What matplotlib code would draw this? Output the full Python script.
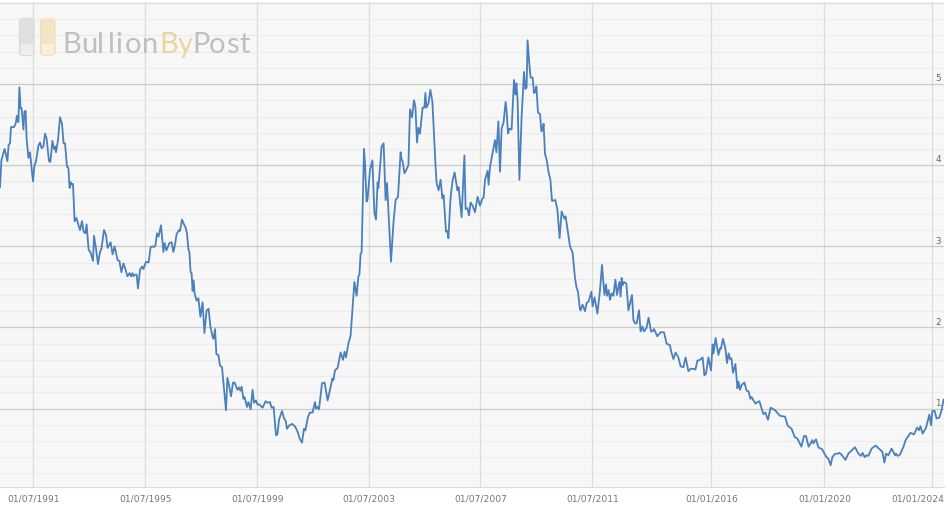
import numpy as np
import matplotlib
matplotlib.use("Agg")
import matplotlib.pyplot as plt
from matplotlib.patches import FancyBboxPatch, Rectangle

# sample positions along the category axis, and the ratio read at each one
pos_a = [0, .7, 2.3, 3.7, 4.3, 5, 5.5, 7, 7.8, 8.5, 9.2, 9.7, 10.3, 10.8, 11.7, 12.2, 12.8, 13.3, 14.2, 15,
         16.5, 17.2, 18, 19.2, 20, 20.8, 21.7, 22.5, 23.3, 24.5, 25.2, 26.2, 27, 27.5, 28, 29, 30, 31, 31.8, 32.5,
         33.5, 34.2, 34.8, 35.3, 35.8, 36.5, 37.3, 38.2, 39, 40, 41, 41.8, 42.7, 43.3, 44.3, 45.3, 46.5, 47, 48, 49,
         50, 50.7, 52, 53, 53.8, 55.3, 56.3, 57.3, 58.8, 59.7, 60.7, 61.7, 62.7, 63.7, 64.8, 65.5, 66.2, 66.7, 67.3, 68.3, 69]
val_a = [3.73, 4.06, 4.20, 4.05, 4.25, 4.27, 4.47, 4.47, 4.51, 4.61, 4.53, 4.96, 4.70, 4.70, 4.44, 4.66, 4.67, 4.33, 4.09, 4.16,
         3.80, 3.99, 4.05, 4.24, 4.28, 4.21, 4.23, 4.39, 4.33, 4.05, 4.04, 4.30, 4.20, 4.23, 4.16, 4.31, 4.59, 4.51, 4.27, 4.27,
         3.98, 3.97, 3.72, 3.79, 3.76, 3.77, 3.31, 3.35, 3.28, 3.20, 3.31, 3.18, 3.16, 3.27, 2.96, 2.92, 2.82, 3.13, 2.97, 2.78,
         2.93, 2.97, 3.20, 3.14, 2.98, 3.05, 2.90, 3.00, 2.83, 2.82, 2.68, 2.79, 2.72, 2.63, 2.67, 2.63, 2.67, 2.63, 2.65, 2.65, 2.48]

pos_b = [70, 71, 71.7, 73, 74.3, 75.3, 76.3, 77, 77.7, 78.5, 79.3, 80.5, 81.7, 82.3, 83.2, 84.7, 85.8, 86.7, 87.5, 88.3,
         89.5, 90, 91, 91.8, 92.8, 93.5, 94.2, 94.7, 95.3, 95.8, 96.3, 96.8, 97.3, 98.3, 99.2, 100.2, 101.3, 102.2, 103.3, 104.3,
         105.2, 106.3, 106.8, 107.5, 108.2, 109.2, 110, 111, 113, 113.7, 114.5, 115.5, 116.5, 117.3, 118.7, 119.5, 120.2, 120.8, 121.7, 122.3,
         123.5, 124.2, 125.3, 126.3, 127, 128, 128.7, 129.7, 131.3, 132.8, 133.8, 135, 135.8, 136.8, 138, 138.7, 139.5, 141, 142, 142.8,
         143.5, 144.5, 146, 147.5, 148.7, 150]
val_b = [2.71, 2.75, 2.72, 2.81, 2.80, 2.99, 3.00, 2.99, 3.01, 3.16, 3.12, 3.26, 2.93, 3.04, 2.95, 3.04, 3.05, 2.93, 3.02, 3.15,
         3.20, 3.19, 3.33, 3.28, 3.23, 3.16, 2.96, 2.93, 2.68, 2.67, 2.45, 2.58, 2.42, 2.33, 2.36, 2.13, 2.31, 1.93, 2.21, 2.23,
         2.01, 1.88, 1.86, 1.98, 1.67, 1.66, 1.53, 1.51, 0.98, 1.38, 1.29, 1.15, 1.32, 1.32, 1.23, 1.26, 1.22, 1.27, 1.12, 1.14,
         1.02, 1.08, 0.99, 1.23, 1.07, 1.10, 1.05, 1.05, 1.01, 1.09, 1.07, 1.08, 1.01, 1.02, 0.67, 0.68, 0.86, 0.97, 0.88, 0.85,
         0.75, 0.79, 0.81, 0.78, 0.72, 0.62]

pos_c = [151, 152, 152.7, 154, 155, 156.3, 157.5, 158, 158.7, 159.5, 161, 162.3, 163.8, 165, 166.2, 166.7, 167.5, 168.8, 170.3, 171.5,
         172.3, 173, 174.2, 175.3, 176.2, 177.2, 178.3, 179.2, 179.7, 180.3, 180.8, 182, 182.5, 183.3, 183.8, 185, 186.2, 187.2, 188, 188.8,
         189.2, 190.8, 191.8, 192.8, 193.5, 195.5, 196.7, 197.8, 199, 200.3, 200.8, 201.3, 202.2, 203.3, 204.2]
val_c = [0.58, 0.75, 0.73, 0.90, 0.95, 0.95, 1.08, 1.00, 1.02, 0.99, 1.31, 1.32, 1.10, 1.23, 1.37, 1.35, 1.47, 1.50, 1.69, 1.60,
         1.70, 1.63, 1.80, 1.90, 2.21, 2.56, 2.39, 2.63, 2.65, 2.91, 2.92, 4.20, 4.02, 3.55, 3.59, 3.94, 4.06, 3.41, 3.33, 3.79,
         3.72, 4.23, 4.27, 3.57, 3.78, 2.81, 3.28, 3.57, 3.61, 4.16, 4.07, 4.05, 3.90, 3.95, 4.00]

pos_d = [205, 206, 207, 207.7, 208.5, 209.2, 210, 211.3, 212.2, 212.7, 213.2, 214.2, 215.2, 216.2, 217.8, 218.3, 219.3, 220.3, 221.2, 221.8,
         223, 223.7, 224.2, 225.2, 226.2, 227.3, 228.7, 229.3, 230.8, 232.2, 232.8, 233.7, 234.5, 235.3, 236.3, 237.5, 238.8, 240, 241.2, 241.8,
         242.5, 243.8, 244.3, 245, 246.5, 247.5, 248.2, 249.2, 250, 250.8, 251.8, 252.8, 253.3, 254, 254.7, 255.8, 257, 257.7, 258.2, 258.8,
         259.7, 260.8, 262, 262.7, 263.3, 263.8, 264.5, 265.3, 266.3, 267, 267.5, 268.2, 269, 270, 270.7, 271.3, 271.8, 272.5, 273.3, 274.3,
         275.2, 276, 277.7, 278.7, 279.8, 280.8, 282.2, 282.8, 283.7, 285, 286.3, 287.5]
val_d = [4.69, 4.59, 4.80, 4.72, 4.28, 4.46, 4.39, 4.71, 4.71, 4.89, 4.71, 4.76, 4.93, 4.78, 3.98, 3.78, 3.69, 3.82, 3.59, 3.63,
         3.18, 3.19, 3.10, 3.57, 3.80, 3.91, 3.69, 3.73, 3.36, 4.12, 3.46, 3.47, 3.38, 3.54, 3.50, 3.42, 3.61, 3.50, 3.59, 3.60,
         3.82, 3.93, 3.76, 3.98, 4.18, 4.31, 4.16, 4.54, 3.92, 4.45, 4.53, 4.78, 4.67, 4.39, 4.45, 4.44, 5.05, 4.87, 5.01, 4.80,
         3.82, 4.59, 5.15, 4.94, 4.96, 5.54, 5.29, 5.08, 5.08, 4.89, 4.90, 4.97, 4.65, 4.63, 4.42, 4.43, 4.51, 4.14, 4.07, 3.91,
         3.82, 3.56, 3.57, 3.45, 3.10, 3.43, 3.34, 3.37, 3.22, 3.00, 2.92, 2.61]

pos_e = [288.2, 289, 290, 290.3, 291.3, 292.5, 293.3, 294.3, 295.7, 296.3, 297.3, 298.7, 300, 301, 302.2, 303, 303.5, 304.3, 305, 305.8,
         306.7, 307.7, 308.5, 309.7, 310.3, 310.8, 311.3, 312, 313.2, 314.2, 316, 316.7, 317.5, 318.3, 319.5, 320.3, 321.2, 322, 323.2, 324.3,
         325.5, 326.2, 327, 328.7, 330.3, 332, 333.3, 335, 335.5, 336.7, 337.8, 339.2, 340.3, 341.7, 342.8, 344.2, 345.3, 346.7, 347.7, 348.7]
val_e = [2.50, 2.44, 2.22, 2.21, 2.28, 2.20, 2.30, 2.32, 2.44, 2.26, 2.37, 2.17, 2.46, 2.77, 2.40, 2.53, 2.39, 2.46, 2.34, 2.42,
         2.39, 2.59, 2.40, 2.56, 2.38, 2.61, 2.52, 2.56, 2.54, 2.21, 2.40, 2.09, 2.05, 2.05, 2.21, 1.95, 2.01, 1.95, 1.99, 2.12,
         1.95, 1.95, 1.98, 1.89, 1.94, 1.94, 1.80, 1.78, 1.71, 1.61, 1.69, 1.63, 1.52, 1.51, 1.63, 1.46, 1.49, 1.49, 1.48, 1.59]

pos_f = [350, 351.3, 352.2, 353, 354.2, 355.5, 356.3, 356.8, 357.8, 359.2, 360, 360.5, 361.5, 362.7, 363.5, 364.3, 365, 365.7, 366.5, 367.7,
         368.7, 369.3, 370, 370.8, 372.2, 373.3, 374.3, 375.2, 375.8, 376.7, 377.8, 378.7, 379.7, 381.7, 382.7, 384, 385.3, 387.5, 390, 392.5,
         393.8, 395.8, 397.3, 398.7, 400.7, 402, 403, 404.3, 406.2, 406.7, 408, 409.2, 411, 413]
val_f = [1.60, 1.63, 1.41, 1.43, 1.63, 1.47, 1.79, 1.68, 1.87, 1.66, 1.74, 1.74, 1.86, 1.74, 1.56, 1.68, 1.61, 1.62, 1.44, 1.55,
         1.25, 1.33, 1.23, 1.29, 1.32, 1.22, 1.21, 1.12, 1.14, 1.10, 1.06, 1.08, 1.09, 0.93, 0.95, 0.86, 1.01, 0.98, 0.91, 0.90,
         0.79, 0.75, 0.65, 0.63, 0.53, 0.66, 0.66, 0.53, 0.61, 0.57, 0.62, 0.52, 0.50, 0.41]

pos_g = [414.3, 415.3, 416.2, 417.5, 418.8, 419.7, 421, 422.7, 424.2, 427.5, 429.2, 430.5, 431.3, 432.3, 433.3, 434.2, 435.8, 437.8, 440, 441.2,
         442.2, 443, 444.2, 445.8, 447.5, 448, 448.8, 450, 451.7, 452.8, 453.3, 455.3, 457, 458.5, 459.5, 460.2, 461.3, 463, 464.7, 465.5,
         466.2, 467.3, 468.3, 469.7, 470.8, 471.8]
val_g = [.374, .30, .403, .44, .444, .453, .424, .366, .444, .523, .444, .416, .453, .40, .424, .416, .506, .543, .494, .465,
         .333, .444, .424, .506, .424, .444, .416, .432, .527, .609, .63, .70, .68, .765, .733, .782, .691, .761, .926, .794,
         .971, .971, .877, .889, .979, 1.11]

tick_pos = [16.6, 72.6, 128.6, 184.3, 240.2, 296.2, 355.7, 412.2, 465.8]
tick_labels = ["01/07/1991", "01/07/1995", "01/07/1999", "01/07/2003", "01/07/2007",
               "01/07/2011", "01/01/2016", "01/01/2020", "01/01/2024"]
y_labels = [1, 2, 3, 4, 5]

W, H = 948, 519
pos = np.concatenate([pos_a, pos_b, pos_c, pos_d, pos_e, pos_f, pos_g])
vals = np.concatenate([val_a, val_b, val_c, val_d, val_e, val_f, val_g])

fig = plt.figure(figsize=(W / 100, H / 100), dpi=100, facecolor="white")
ax = fig.add_axes([0, 1 - 486.7 / H, 944 / W, (486.7 - 2) / H], facecolor="#f7f7f7")
ax.set_xlim(0, 472)
ax.set_ylim(0.036, 6.012)

# grid: faint every 0.2, stronger on whole numbers
for v in np.arange(0.2, 6, 0.2):
    if abs(v - round(v)) > 0.01:
        ax.axhline(v, color="#ececec", lw=0.9, zorder=1)
for v in range(1, 6):
    ax.axhline(v, color="#cbcbcb", lw=0.9, zorder=1.5)
ax.axhline(6, color="#dedede", lw=0.9, zorder=1.5)
for p in tick_pos:
    ax.axvline(p, color="#dcdcdc", lw=0.85, zorder=1.2)

ax.plot(pos, vals, color="#4a80bb", lw=1.3, zorder=3, solid_joinstyle="round")

for s in ["top", "left", "right"]:
    ax.spines[s].set_visible(False)
ax.spines["bottom"].set_color("#dcdcdc")
ax.spines["bottom"].set_linewidth(0.8)
ax.set_yticks([])
ax.set_xticks(tick_pos[:-1], tick_labels[:-1], fontsize=6.6, color="#777777")
ax.tick_params(axis="x", length=0, pad=5.3)

# last label is pushed in so that it stays on the canvas
fig.text(944 / W, 1 - 498.5 / H, tick_labels[-1], ha="right", va="center", fontsize=6.6, color="#777777")

for v in y_labels:
    ax.text(469, v + 0.065, str(v), ha="center", va="center", fontsize=6.4, color="#666666", zorder=4)

# watermark logo
logo_letters = list("BullionByPost")
logo_x = [72, 89, 100, 111, 119, 133, 150, 169, 185, 201, 216.5, 232.5, 245]
logo_colors = ["#bfbfbf"] * 7 + ["#e8d5a2"] * 2 + ["#bfbfbf"] * 4
for ch, lx, c in zip(logo_letters, logo_x, logo_colors):
    fig.text(lx / W, 1 - 53 / H, ch, ha="center", va="baseline", fontsize=21, color=c,
             family="Lato", zorder=5)


def add_bar(x0, y0, w, h, face, edge, lower):
    tr = fig.transFigure
    fig.add_artist(FancyBboxPatch((x0 / W, 1 - (y0 + h) / H), w / W, h / H, transform=tr,
                                  boxstyle="round,pad=0,rounding_size=0.004", mutation_aspect=1.8,
                                  fc=face, ec=edge, lw=0.8))
    fig.add_artist(Rectangle(((x0 + 1) / W, 1 - (y0 + h - 1) / H), (w - 2) / W, 11 / H, transform=tr,
                             fc=lower, ec="none"))


add_bar(19.5, 18.5, 14.5, 37, "#dfe0e1", "#d8d9da", "#eeeeee")
add_bar(40.5, 19, 14.5, 36.5, "#f3e4c4", "#efdfba", "#f8efdc")

fig.savefig("out.png", dpi=100, facecolor="white")
